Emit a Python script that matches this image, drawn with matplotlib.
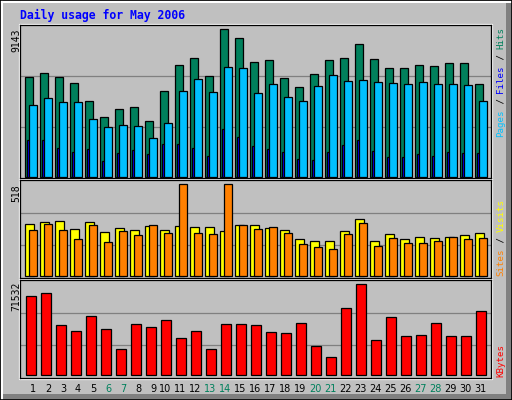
import matplotlib
matplotlib.use('Agg')
import matplotlib.pyplot as plt
from matplotlib.patches import Rectangle
import numpy as np

# daily usage for May 2006
days = np.arange(1, 32)
weekend = [6, 7, 13, 14, 20, 21, 27, 28]

hits = [6166, 6414, 6166, 5794, 4677, 3685, 4181, 4342, 3436, 5297,
        6910, 7344, 6228, 9143, 8585, 7096, 7220, 6104, 5545, 6352,
        7220, 7344, 8213, 7282, 6724, 6724, 6910, 6848, 7034, 7034, 5731]
files = [2258, 2258, 1762, 1514, 1700, 955, 1452, 1638, 1389, 2010,
         2010, 1762, 1265, 2940, 2444, 1886, 1700, 1514, 1079, 1017,
         1514, 1948, 2258, 1576, 1203, 1203, 1389, 1265, 1514, 1452, 1452]
pages = [4429, 4863, 4615, 4615, 3560, 3064, 3188, 3126, 2382, 3312,
         5297, 6042, 5235, 6786, 6724, 5173, 5731, 4925, 4677, 5607,
         6290, 5918, 5980, 5856, 5794, 5731, 5856, 5731, 5731, 5670, 4677]
visits = [292, 303, 309, 264, 303, 247, 269, 258, 281, 258,
          281, 275, 275, 253, 286, 286, 269, 258, 207, 196,
          196, 253, 320, 196, 236, 207, 219, 213, 219, 230, 241]
sites = [258, 292, 258, 207, 286, 190, 253, 230, 286, 241,
         518, 241, 236, 518, 286, 264, 275, 241, 179, 162,
         151, 236, 298, 168, 213, 185, 185, 196, 219, 207, 213]
kbytes = [62070, 64437, 39198, 34466, 46297, 36044, 20270, 39987, 37621, 43142,
          28945, 34466, 20270, 39987, 39987, 39198, 33677, 32889, 40776, 22636,
          13960, 52606, 71532, 27368, 45508, 30523, 31311, 40776, 30523, 30523, 50240]

c_hits = '#00805c'
c_files = '#0000ff'
c_pages = '#00c0ff'
c_visits = '#ffff00'
c_sites = '#ff8000'
c_kbytes = '#ff0000'
bg = '#c0c0c0'
mono = 'DejaVu Sans Mono'

W, H = 512, 400
fig = plt.figure(figsize=(W / 100, H / 100), dpi=100, facecolor=bg)


def fx(x):
    return x / W


def fy(y):
    return 1 - y / H


def panel(top, bottom, ylim):
    ax = fig.add_axes([fx(20), fy(bottom), (491 - 20) / W, (bottom - top) / H])
    ax.set_facecolor(bg)
    ax.set_xlim(0.147, 31.547)
    ax.set_ylim(*ylim)
    ax.set_xticks([])
    ax.set_yticks([])
    for s in ax.spines.values():
        s.set_color('black')
        s.set_linewidth(0.9)
    for f in (1 / 3, 2 / 3):
        ax.plot([0, 1], [f, f], transform=ax.transAxes, color='#808080',
                lw=0.9, zorder=0)
    # white bevel line round the frame
    fig.add_artist(Rectangle((fx(19), fy(bottom + 1)), 473 / W, (bottom - top + 2) / H,
                             transform=fig.transFigure, fill=False,
                             edgecolor='white', lw=0.9, zorder=-1))
    return ax


ek = dict(edgecolor='black', linewidth=0.9, align='edge')

ax1 = panel(25, 178, (-81, 9410))
ax1.bar(days - 0.5, hits, 0.49, color=c_hits, zorder=2, **ek)
ax1.bar(days - 0.387, files, 0.49, color=c_files, zorder=3, **ek)
ax1.bar(days - 0.233, pages, 0.49, color=c_pages, zorder=4, **ek)

ax2 = panel(180, 278, (-11.3, 542.3))
ax2.bar(days - 0.5, visits, 0.56, color=c_visits, zorder=2, **ek)
ax2.bar(days - 0.233, sites, 0.49, color=c_sites, zorder=3, **ek)

ax3 = panel(280, 378, (-2366, 74926))
ax3.bar(days - 0.433, kbytes, 0.667, color=c_kbytes, zorder=2, **ek)

# title
fig.text(fx(20), fy(18.7), 'Daily usage for May 2006', color='#0000ff',
         family=mono, weight='bold', fontsize=8.3, va='baseline', ha='left')

# max values on the left
for val, ytop in ((max(hits), 28), (max(sites), 184), (max(kbytes), 282)):
    fig.text(fx(19.3), fy(ytop), str(val), rotation=90, rotation_mode='anchor',
             ha='right', va='baseline', family=mono, fontsize=7, color='black')

# legends on the right, one coloured word at a time
adv = 0.602 * 6.6 * 100 / 72


def legend(pieces, ystart):
    y = ystart
    for txt, col in pieces:
        fig.text(fx(503.5), fy(y), txt, rotation=90, rotation_mode='anchor',
                 ha='left', va='baseline', family=mono, fontsize=6.6, color=col)
        y -= adv * len(txt)


legend([('Pages', c_pages), (' / ', 'black'), ('Files', c_files),
        (' / ', 'black'), ('Hits', c_hits)], 137)
legend([('Sites', c_sites), (' / ', 'black'), ('Visits', c_visits)], 276)
legend([('KBytes', c_kbytes)], 376.7)

# day numbers
for d in days:
    xd = d + 0.013 if d < 10 else d - 0.15
    xp = 20 + (xd - 0.147) * 15
    col = c_hits if d in weekend else 'black'
    fig.text(fx(xp), fy(392.3), str(d), ha='center', va='baseline',
             fontsize=7, color=col)

# outer 3d border
fig.add_artist(Rectangle((0, fy(3)), 1, 2 / H, transform=fig.transFigure,
                         color='white', lw=0, zorder=-2))
fig.add_artist(Rectangle((fx(1), 0), 2 / W, 1, transform=fig.transFigure,
                         color='white', lw=0, zorder=-2))
fig.add_artist(Rectangle((fx(506), 0), 6 / W, fy(3), transform=fig.transFigure,
                         color='#808080', lw=0, zorder=-2))
fig.add_artist(Rectangle((fx(3), 0), 1, 6 / H, transform=fig.transFigure,
                         color='#808080', lw=0, zorder=-2))
fig.add_artist(Rectangle((0, 0), 1, 1, transform=fig.transFigure, fill=False,
                         edgecolor='black', lw=1.2, zorder=-1))

fig.savefig('out.png', dpi=100, facecolor=bg)
